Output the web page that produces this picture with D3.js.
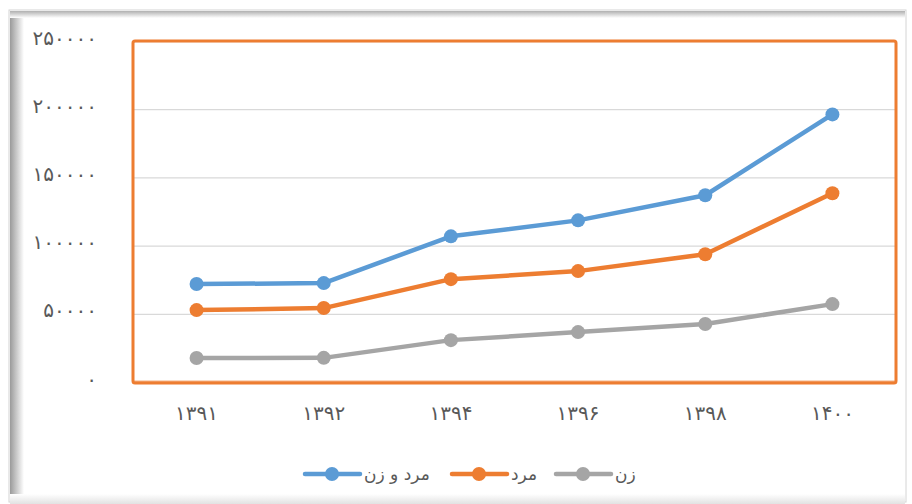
<!DOCTYPE html>
<html>
<head>
<meta charset="utf-8">
<script src="https://cdn.jsdelivr.net/npm/d3@7"></script>
<style>
  body { margin: 0; background: #fff; }
  svg { display: block; }
  .tick text { font-family: "DejaVu Sans", sans-serif; fill: #595959; }
</style>
</head>
<body>
<div id="chart"></div>
<script>
// سال‌ها و مقادیر
const years = ["1391", "1392", "1394", "1396", "1398", "1400"];
const both = [71800, 72500, 106800, 118500, 136900, 196200];
const men = [52700, 54200, 75400, 81300, 93700, 138400];
const women = [17600, 17700, 30700, 36600, 42500, 57100];
const yTicks = [0, 50000, 100000, 150000, 200000, 250000];
const seriesNames = ["مرد و زن", "مرد", "زن"];
const colors = ["#5B9BD5", "#ED7D31", "#A5A5A5"];

const fa = s => String(s).replace(/\d/g, d => "۰۱۲۳۴۵۶۷۸۹"[d]);

const W = 912, H = 504;
const margin = { top: 41, right: 16, bottom: 122, left: 133 };
const width = W - margin.left - margin.right;
const height = H - margin.top - margin.bottom;

const svg = d3.select("#chart").append("svg")
  .attr("width", W).attr("height", H);

// frame shadow
const defs = svg.append("defs");
const gl = defs.append("linearGradient").attr("id", "shL");
gl.append("stop").attr("offset", "0%").attr("stop-color", "#9a9a9a");
gl.append("stop").attr("offset", "100%").attr("stop-color", "#fff");
const gt = defs.append("linearGradient").attr("id", "shT").attr("x1", 0).attr("y1", 0).attr("x2", 0).attr("y2", 1);
gt.append("stop").attr("offset", "0%").attr("stop-color", "#b0b0b0");
gt.append("stop").attr("offset", "100%").attr("stop-color", "#fff");
const gb = defs.append("linearGradient").attr("id", "shB").attr("x1", 0).attr("y1", 0).attr("x2", 0).attr("y2", 1);
gb.append("stop").attr("offset", "0%").attr("stop-color", "#fff");
gb.append("stop").attr("offset", "100%").attr("stop-color", "#e2e2e2");

svg.append("rect").attr("x", 0).attr("y", 0).attr("width", W).attr("height", H).attr("fill", "#fff");
svg.append("rect").attr("x", 9).attr("y", 10).attr("width", 897).attr("height", 492)
  .attr("fill", "#fff").attr("stroke", "#d4d4d4");
svg.append("rect").attr("x", 10).attr("y", 11).attr("width", 14).attr("height", 491).attr("fill", "url(#shL)");
svg.append("rect").attr("x", 10).attr("y", 11).attr("width", 895).attr("height", 7).attr("fill", "url(#shT)");
svg.append("rect").attr("x", 10).attr("y", 494).attr("width", 895).attr("height", 10).attr("fill", "url(#shB)");

const g = svg.append("g").attr("transform", `translate(${margin.left},${margin.top})`);

const x = d3.scaleBand().domain(years).range([0, width]);
const y = d3.scaleLinear().domain([0, 250000]).range([height, 0]);

// gridlines
g.append("g")
  .call(d3.axisLeft(y).tickValues(yTicks).tickSize(-width).tickFormat(""))
  .call(a => a.select(".domain").remove())
  .call(a => a.selectAll("line").attr("stroke", "#d9d9d9").attr("stroke-width", 1.3));

// y axis labels
g.append("g")
  .call(d3.axisLeft(y).tickValues(yTicks).tickSize(0).tickPadding(36).tickFormat(d => fa(d)))
  .call(a => a.select(".domain").remove())
  .call(a => a.selectAll("text").attr("font-size", 20).attr("dy", "0.15em"));

// x axis labels
g.append("g")
  .attr("transform", `translate(0,${height})`)
  .call(d3.axisBottom(x).tickSize(0).tickPadding(24).tickFormat(d => fa(d)))
  .call(a => a.select(".domain").attr("stroke", "#F4B183").attr("stroke-width", 2).attr("transform", "translate(0,-1)"))
  .call(a => a.selectAll("text").attr("font-size", 20));

// plot area border
g.append("rect")
  .attr("x", 0).attr("y", 0).attr("width", width).attr("height", height + 1)
  .attr("rx", 2).attr("fill", "none").attr("stroke", colors[1]).attr("stroke-width", 3);

const allSeries = [both, men, women];
const line = d3.line().x((d, i) => x(years[i]) + x.bandwidth() / 2).y(d => y(d));

allSeries.slice().reverse().forEach((vals, ri) => {
  const k = allSeries.length - 1 - ri;
  g.append("path").datum(vals)
    .attr("fill", "none").attr("stroke", colors[k]).attr("stroke-width", 4.5)
    .attr("stroke-linejoin", "round").attr("stroke-linecap", "round")
    .attr("d", line);
  g.selectAll(null).data(vals).enter().append("circle")
    .attr("cx", (d, i) => x(years[i]) + x.bandwidth() / 2)
    .attr("cy", d => y(d))
    .attr("r", 7).attr("fill", colors[k]);
});

// legend
const legendX = [305, 452, 556];
const leg = svg.append("g");
seriesNames.forEach((name, i) => {
  const lg = leg.append("g").attr("transform", `translate(${legendX[i]},474)`);
  lg.append("line").attr("x1", 0).attr("x2", 55).attr("y1", 0).attr("y2", 0)
    .attr("stroke", colors[i]).attr("stroke-width", 4.5).attr("stroke-linecap", "round");
  lg.append("circle").attr("cx", 27).attr("cy", 0).attr("r", 7).attr("fill", colors[i]);
  lg.append("text").attr("x", 59).attr("y", 6)
    .attr("font-family", "DejaVu Sans, sans-serif").attr("font-size", 17)
    .attr("fill", "#595959").text(name);
});
</script>
</body>
</html>
